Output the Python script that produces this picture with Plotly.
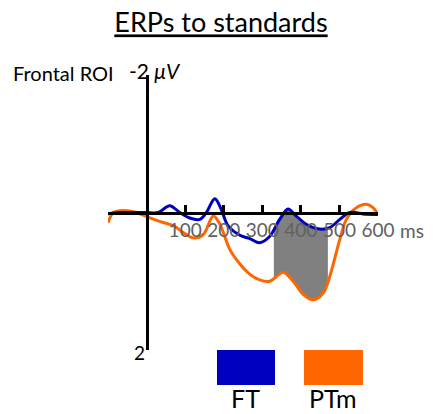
import plotly.graph_objects as go

# ---- data ----
time_ft = [-100, -70, -35, 0, 30, 60, 86, 112, 138, 155, 177, 194, 211, 242, 268, 293,
           319, 345, 367, 384, 414, 449, 475, 501, 527, 561, 600]
ft = [0.02, 0.0, 0.0, 0.0, 0.0, -0.1, 0.0, 0.08, 0.1, 0.0, -0.2, -0.04, 0.19, 0.33, 0.38, 0.44,
      0.35, 0.1, -0.05, 0.03, 0.17, 0.24, 0.22, 0.1, 0.0, 0.02, 0.03]

time_ptm = [-100, -86, -60, -26, 0, 34, 69, 95, 121, 147, 173, 190, 216, 242, 268, 293,
            319, 337, 354, 380, 406, 432, 458, 475, 501, 518, 544, 570, 587, 600]
ptm = [0.15, 0.0, -0.03, 0.0, 0.06, 0.13, 0.19, 0.29, 0.37, 0.32, 0.05, 0.17, 0.54, 0.75, 0.9, 0.98,
       1.0, 0.93, 0.87, 1.0, 1.19, 1.27, 1.17, 0.93, 0.39, 0.1, -0.07, -0.12, -0.07, 0.03]

# significant window (shaded) boundaries
sig_time_ft = [330, 345, 367, 384, 414, 449, 470]
sig_ft = [0.29, 0.1, -0.05, 0.03, 0.17, 0.24, 0.23]
sig_time_ptm = [330, 337, 354, 380, 406, 432, 458, 470]
sig_ptm = [0.95, 0.93, 0.87, 1.0, 1.19, 1.27, 1.17, 0.97]

tick_vals = [100, 200, 300, 400, 500, 600]
tick_text = ["100", "200", "300", "400", "500", "600"]
x_range = [-100, 600]
y_range = [2, -2]

series_names = ["FT", "PTm"]
series_colors = ["#0000C0", "#FF6600"]

FONT = "Lato"

fig = go.Figure()

# shaded window
fig.add_trace(go.Scatter(x=sig_time_ft, y=sig_ft, mode="lines",
                         line=dict(width=0, shape="spline", color="#808080"),
                         showlegend=False, hoverinfo="skip"))
fig.add_trace(go.Scatter(x=sig_time_ptm, y=sig_ptm, mode="lines", fill="tonexty",
                         fillcolor="#808080",
                         line=dict(width=0, shape="spline", color="#808080"),
                         showlegend=False, hoverinfo="skip"))

fig.add_trace(go.Scatter(x=time_ptm, y=ptm, mode="lines", name=series_names[1],
                         line=dict(color=series_colors[1], width=3, shape="spline"),
                         showlegend=False))
fig.add_trace(go.Scatter(x=time_ft, y=ft, mode="lines", name=series_names[0],
                         line=dict(color=series_colors[0], width=3, shape="spline"),
                         showlegend=False))

W, H = 433, 414
ML, MR, MT, MB = 108, 55, 75, 64
PW, PH = W - ML - MR, H - MT - MB


def px(x):
    return (x - ML) / PW


def py(y):
    return (H - MB - y) / PH


fig.update_layout(
    width=W, height=H,
    margin=dict(l=ML, r=MR, t=MT, b=MB, pad=0),
    paper_bgcolor="white", plot_bgcolor="white",
    showlegend=False,
    title=dict(text="<span style='text-decoration:underline'>ERPs to standards</span>",
               x=221 / W, xref="container", xanchor="center",
               y=1 - 23 / H, yanchor="middle",
               font=dict(family=FONT, size=27, color="black")),
    xaxis=dict(range=x_range, anchor="free", position=0.5,
               showline=True, linecolor="black", linewidth=2.5,
               tickmode="array", tickvals=tick_vals, ticktext=tick_text,
               ticks="inside", ticklen=7, tickwidth=2.5, tickcolor="black",
               tickfont=dict(family=FONT, size=19, color="#606060"),
               showgrid=False, zeroline=False, fixedrange=True),
    yaxis=dict(range=y_range, anchor="free", position=(0 - x_range[0]) / (x_range[1] - x_range[0]),
               showline=True, linecolor="black", linewidth=2.5,
               showticklabels=False, ticks="", showgrid=False, zeroline=False, fixedrange=True),
)

ann = [
    dict(text="ms", x=600, y=0, xref="x", yref="y", xanchor="left", yanchor="middle",
         xshift=20, yshift=-18, font=dict(family=FONT, size=19, color="#606060")),
    dict(text="Frontal ROI", x=px(11), y=py(73), xanchor="left", yanchor="middle",
         font=dict(family=FONT, size=20, color="black")),
    dict(text="-2 <i>μV</i>", x=px(127), y=py(71), xanchor="left", yanchor="middle",
         font=dict(family=FONT, size=21, color="black")),
    dict(text="2", x=px(132), y=py(352), xanchor="left", yanchor="middle",
         font=dict(family=FONT, size=19, color="black")),
    dict(text=series_names[0], x=px(245), y=py(398), xanchor="center", yanchor="middle",
         font=dict(family=FONT, size=25, color="black")),
    dict(text=series_names[1], x=px(333), y=py(398), xanchor="center", yanchor="middle",
         font=dict(family=FONT, size=25, color="black")),
]
for a in ann:
    a.setdefault("xref", "paper")
    a.setdefault("yref", "paper")
    a["showarrow"] = False
fig.update_layout(annotations=ann)

# legend swatches
fig.add_shape(type="rect", xref="paper", yref="paper", x0=px(217), x1=px(275), y0=py(350), y1=py(385),
              fillcolor=series_colors[0], line=dict(width=0))
fig.add_shape(type="rect", xref="paper", yref="paper", x0=px(304), x1=px(363), y0=py(350), y1=py(385),
              fillcolor=series_colors[1], line=dict(width=0))

fig.write_html("out.html", config={"displayModeBar": False},
               post_script="document.body.style.margin='0';")
